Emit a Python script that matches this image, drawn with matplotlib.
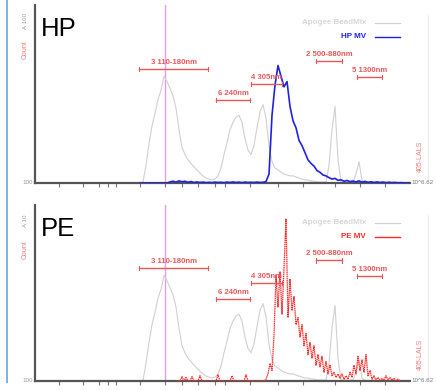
import numpy as np
import matplotlib
matplotlib.use("Agg")
import matplotlib.pyplot as plt

plt.rcParams["font.family"] = ["Liberation Sans", "DejaVu Sans"]

# ---- data (LALS channel vs. count) ----
# bead-mix reference histogram, channels 105..375 step 3
bead_channels = np.arange(105, 376, 3)
bead_counts = [
    0, 0.5, 10, 22, 32, 39, 47, 52, 60, 57, 53, 49, 42, 30, 20, 16, 13, 11, 9, 7.3,
    5.6, 4, 2.8, 2.2, 1.7, 2.2, 4, 8.4, 16, 22.5, 30, 34, 37, 38, 34, 25, 18.5, 16, 21, 31,
    40, 44, 36.5, 21, 12, 8.4, 7.3, 6.2, 5, 4.5, 4, 4, 3.4, 2.8, 2.2, 1.7, 1.7, 1.1, 1.1, 0.6,
    0.6, 0.6, 0.6, 10, 30, 43, 13, 0.6, 0.5, 0.5, 0.5, 0.5, 5, 12, 1.5, 0.3, 0.3, 0.3, 0.3, 0.3,
    0.3, 0.3, 0.3, 0.3, 0.3, 0.3, 0.3, 0.3, 0.3, 0.3, 0.3,
]

# HP microvesicles, same channels as the bead mix
hp_counts = [
    0, 0, 0, 0, 0, 0, 0, 0, 0, 0, 0.6, 1.0, 0.5, 1.2, 0.7, 1.0, 0.4, 0.8, 0.3, 0.6,
    0.3, 0.5, 0.2, 0.4, 0.2, 0.5, 0.3, 0.4, 0.2, 0.5, 0.3, 0.6, 0.3, 0.5, 0.2, 0.5, 0.3, 0.4, 0.3, 0.5,
    0.3, 0.4, 0.8, 5, 38, 55, 66, 60, 54, 57, 43, 35, 31, 24, 21, 17, 13, 11, 9.5, 7,
    6, 4.5, 4, 3, 2.2, 2.6, 1.5, 1.8, 1.0, 1.4, 0.8, 1.1, 0.6, 1.2, 0.5, 0.9, 0.4, 0.7, 0.3, 0.6,
    0.3, 0.5, 0.2, 0.4, 0.2, 0.3, 0.1, 0.2, 0, 0, 0,
]

# PE microvesicles, channels 141..365 step 2
pe_channels = np.arange(141, 366, 2)
pe_counts = [
    0, 0, 0, 2.5, 0, 2, 0, 0, 2.5, 0, 0, 0, 3, 0, 0, 0, 0, 0, 0, 0,
    0, 3.5, 0, 0, 0, 0, 0, 0, 3, 0, 0, 0, 0, 0, 0, 3.5, 0, 0, 0, 0,
    0, 0, 0, 0, 0, 1, 4, 10, 6, 26, 60, 42, 62, 38, 64, 92, 36, 58, 40, 48,
    32, 36, 25, 32, 20, 27, 15, 22, 13, 20, 9, 15, 8, 14, 5, 11, 4, 9, 3, 5,
    2, 4, 1.5, 4, 1, 3, 1, 5, 2, 9, 4, 14, 6, 12, 5, 15, 3, 6, 1, 3,
    0.5, 2, 0.5, 1.5, 0.5, 3, 0.5, 2, 0.5, 1.5, 0.3, 1, 0.3,
]

# size gates: label, left channel, right channel, count level
gate_labels = ["3 110-180nm", "6 240nm", "4 305nm", "2 500-880nm", "5 1300nm"]
gate_left = [104, 181, 216, 281, 322]
gate_right = [173, 215, 247, 307, 347]
gate_level = [64, 46.5, 55.5, 68.5, 59.5]

bead_marker = 130          # channel of the 110-180 nm bead marker
axis_ticks = [24, 48, 64, 73, 81, 105, 130, 147, 163, 180, 190, 215, 243, 268, 300, 325, 350]

W, H = 436, 390
fig = plt.figure(figsize=(W / 100, H / 100), dpi=100)
fig.patch.set_facecolor("white")


def fx(x):
    return x / W


def fy(y):
    return 1 - y / H


GREY = "#d0d0d0"
GATE_RED = "#e8585a"
panels = [
    dict(top=5, bottom=183, name="HP", legend="HP MV", color="#1f22e6",
         ch=bead_channels, counts=hp_counts, scale="A 100", lw=1.2, ls="-"),
    dict(top=205, bottom=381, name="PE", legend="PE MV", color="#ff2a2a",
         ch=pe_channels, counts=pe_counts, scale="A 10", lw=0.9, ls=(0, (1.2, 0.5))),
]

left_px, right_px = 35, 410
for p in panels:
    ax = fig.add_axes([fx(left_px), fy(p["bottom"]), fx(right_px - left_px),
                       (p["bottom"] - p["top"]) / H])
    ax.set_xlim(0, right_px - left_px)
    ax.set_ylim(0, 100)
    ax.patch.set_alpha(0)
    for s in ("top", "right"):
        ax.spines[s].set_visible(False)
    for s in ("left", "bottom"):
        ax.spines[s].set_color("#555555")
        ax.spines[s].set_linewidth(1.6)
    ax.set_yticks([])
    ax.set_xticks(axis_ticks)
    ax.set_xticklabels([])
    ax.tick_params(axis="x", length=3, width=0.8, color="#777777", direction="out")

    ax.axvline(bead_marker, color="#e59ce5", lw=1.0, zorder=1)
    ax.plot(bead_channels, bead_counts, color=GREY, lw=0.8, zorder=2)
    ax.plot(p["ch"], p["counts"], color=p["color"], lw=p["lw"], ls=p["ls"], zorder=3)

    for lab, a, b, lev in zip(gate_labels, gate_left, gate_right, gate_level):
        ax.plot([a, b], [lev, lev], color=GATE_RED, lw=1.0, zorder=4)
        ax.plot([a, a], [lev - 1.2, lev + 1.2], color=GATE_RED, lw=0.8, zorder=4)
        ax.plot([b, b], [lev - 1.2, lev + 1.2], color=GATE_RED, lw=0.8, zorder=4)
        ax.text((a + b) / 2, lev + 2.0, lab, color=GATE_RED, fontsize=5.6,
                ha="center", va="bottom", fontweight="bold", zorder=4)

    # legend entries
    t = p["top"]
    fig.text(fx(366), fy(t + 18), "Apogee BeadMix", color="#d8d8d8", fontsize=5.8,
             fontweight="bold", ha="right", va="center")
    fig.add_artist(plt.Line2D([fx(375), fx(400)], [fy(t + 18), fy(t + 18)],
                              color=GREY, lw=0.9))
    fig.text(fx(366), fy(t + 32), p["legend"], color=p["color"], fontsize=5.8,
             fontweight="bold", ha="right", va="center")
    fig.add_artist(plt.Line2D([fx(375), fx(400)], [fy(t + 32), fy(t + 32)],
                              color=p["color"], lw=1.0))

    # panel title
    fig.text(fx(41), fy(t + 31), p["name"], fontsize=18.5, color="black",
             ha="left", va="baseline")

    # side labels
    fig.text(fx(25), fy(t + 16), p["scale"], fontsize=4.5, color="#9a9a9a",
             rotation=90, ha="center", va="center")
    fig.text(fx(25), fy(t + 45), "Count", fontsize=5, color="#f07a7a",
             rotation=90, ha="center", va="center")
    fig.text(fx(33), fy(p["bottom"]), "100", fontsize=4.5, color="#9a9a9a",
             ha="right", va="center")
    fig.text(fx(420), fy(p["bottom"] - 27), "405-LALS", fontsize=5, color="#f07a7a",
             rotation=90, ha="center", va="center")
    fig.text(fx(411), fy(p["bottom"]), "10^6.62", fontsize=4.5, color="#777777",
             ha="left", va="center")
    fig.add_artist(plt.Line2D([fx(428), fx(428)], [fy(p["top"] + 10), fy(p["bottom"] - 2)],
                              color="#ececec", lw=0.8))

# slide border line on the left
fig.add_artist(plt.Line2D([fx(7), fx(7)], [fy(0), fy(382)], color="#7fb0e0", lw=1.4))

fig.savefig("out.png", dpi=100)
